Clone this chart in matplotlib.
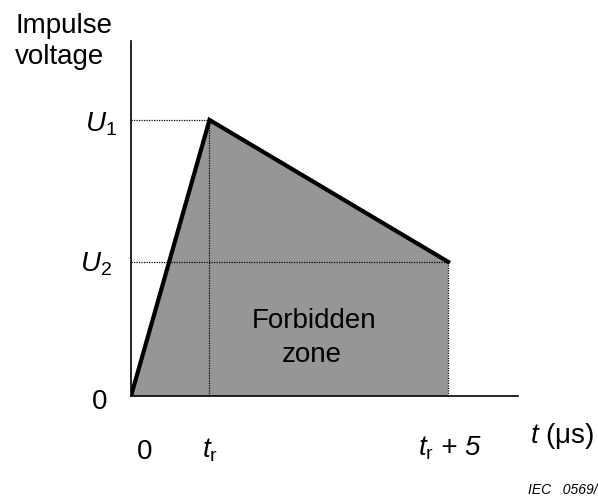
import numpy as np
import matplotlib.pyplot as plt

plt.rcParams['font.family'] = ['Liberation Sans', 'DejaVu Sans']
plt.rcParams['mathtext.fontset'] = 'custom'
plt.rcParams['mathtext.rm'] = 'Liberation Sans'
plt.rcParams['mathtext.it'] = 'Liberation Sans:italic'

# tiempos (unidades arbitrarias del dibujo) y tensiones relativas
t_puntos = [0.0, 1.0, 4.04, 4.04]
u_puntos = [0.0, 1.0, 0.486, 0.0]
t_r = t_puntos[1]
t_r5 = t_puntos[2]
U1 = u_puntos[1]
U2 = u_puntos[2]

W, H = 598, 499
fig = plt.figure(figsize=(W / 100, H / 100), dpi=100)
ax = fig.add_axes([131/W, 103/H, 387/W, 355/H])
ax.set_xlim(0, 4.93)
ax.set_ylim(0, 1.286)

# zona prohibida
ax.fill(t_puntos, u_puntos, color='#969696', lw=0, zorder=1)

# lineas punteadas de referencia
pt = dict(color='black', lw=0.9, ls=(0, (1, 1)), zorder=2)
ax.plot([0, t_r], [U1, U1], **pt)
ax.plot([0, t_r5], [U2, U2], **pt)
ax.plot([t_r, t_r], [0, U1], **pt)
ax.plot([t_r5, t_r5], [0, U2], **pt)

# forma de onda
ax.plot(t_puntos[:3], u_puntos[:3], color='black', lw=3, solid_joinstyle='miter', zorder=3)

for s in ['top', 'right']:
    ax.spines[s].set_visible(False)
for s in ['left', 'bottom']:
    ax.spines[s].set_linewidth(1.2)
ax.set_xticks([])
ax.set_yticks([])


def px(x, y):
    # pixeles de la imagen -> fraccion de figura
    return x / W, 1 - y / H


fs = 20
def texto(x, y, s, ha='left', **kw):
    fig.text(*px(x, y), s, fontsize=kw.pop('fontsize', fs), ha=ha, va='baseline', **kw)

texto(15, 33, 'Impulse')
texto(15, 64, 'voltage')

texto(117, 132, '$U_1$', ha='right')
texto(112, 272, '$U_2$', ha='right')
texto(100, 409, '0', ha='center')

texto(145, 459, '0', ha='center')
texto(202, 457, '$t_\\mathrm{r}$')
texto(418, 455, '$t_\\mathrm{r}$ + 5', style='italic')
texto(530, 443, '$t$ (\u03bcs)')

texto(314, 328, 'Forbidden', ha='center')
texto(312, 362, 'zone', ha='center')

texto(598, 494, 'IEC   0569/', ha='right', fontsize=10, style='italic')

fig.savefig('out.png', dpi=100)
